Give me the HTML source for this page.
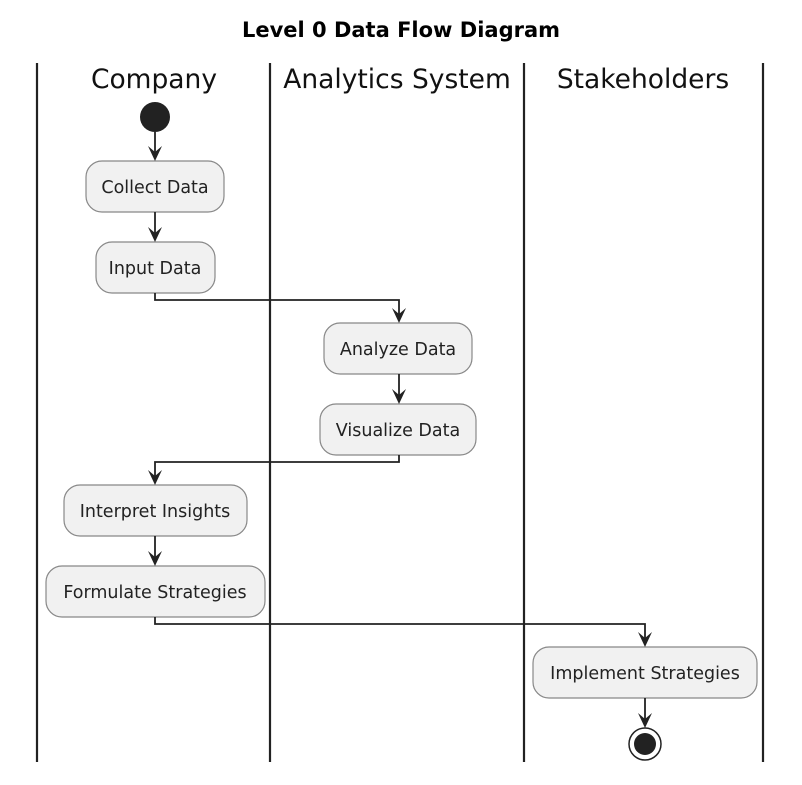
<!DOCTYPE html>
<html><head><style>html,body{margin:0;padding:0;background:#fff}svg{display:block}</style></head>
<body>
<svg width="802" height="785" viewBox="0 0 802 785" xmlns="http://www.w3.org/2000/svg" font-family="'DejaVu Sans','Liberation Sans',sans-serif">
<rect width="802" height="785" fill="#fff"/>
<text x="401" y="37" text-anchor="middle" font-size="21" font-weight="bold" fill="#000">Level 0 Data Flow Diagram</text>
<g stroke="#222" stroke-width="2.2">
<line x1="37" y1="63" x2="37" y2="762"/>
<line x1="270" y1="63" x2="270" y2="762"/>
<line x1="524" y1="63" x2="524" y2="762"/>
<line x1="763" y1="63" x2="763" y2="762"/>
</g>
<g font-size="26.5" fill="#111" text-anchor="middle">
<text x="154" y="88">Company</text>
<text x="397" y="88">Analytics System</text>
<text x="643" y="88">Stakeholders</text>
</g>
<circle cx="155" cy="117" r="15" fill="#222"/>
<g fill="#f1f1f1" stroke="#888" stroke-width="1.2">
<rect x="86" y="161" width="138" height="51" rx="16"/>
<rect x="96" y="242" width="119" height="51" rx="16"/>
<rect x="324" y="323" width="148" height="51" rx="16"/>
<rect x="320" y="404" width="156" height="51" rx="16"/>
<rect x="64" y="485" width="183" height="51" rx="16"/>
<rect x="46" y="566" width="219" height="51" rx="16"/>
<rect x="533" y="647" width="224" height="51" rx="16"/>
</g>
<g font-size="17.5" fill="#222" text-anchor="middle">
<text x="155" y="193">Collect Data</text>
<text x="155" y="274">Input Data</text>
<text x="398" y="355">Analyze Data</text>
<text x="398" y="436">Visualize Data</text>
<text x="155" y="517">Interpret Insights</text>
<text x="155" y="598">Formulate Strategies</text>
<text x="645" y="679">Implement Strategies</text>
</g>
<g stroke="#222" stroke-width="1.8" fill="none">
<path d="M155 132V157"/>
<path d="M155 212V238"/>
<path d="M155 293V300H399V319"/>
<path d="M399 374V400"/>
<path d="M399 455V462H155V481"/>
<path d="M155 536V562"/>
<path d="M155 617V624H645V643"/>
<path d="M645 698V724"/>
</g>
<g fill="#222">
<polygon points="148,146 155,161 162,146 155,152"/>
<polygon points="148,227 155,242 162,227 155,233"/>
<polygon points="392,308 399,323 406,308 399,314"/>
<polygon points="392,389 399,404 406,389 399,395"/>
<polygon points="148,470 155,485 162,470 155,476"/>
<polygon points="148,551 155,566 162,551 155,557"/>
<polygon points="638,632 645,647 652,632 645,638"/>
<polygon points="638,713 645,728 652,713 645,719"/>
</g>
<circle cx="645" cy="744" r="16" fill="#fff" stroke="#222" stroke-width="1.5"/>
<circle cx="645" cy="744" r="11" fill="#222"/>
</svg>
</body></html>
